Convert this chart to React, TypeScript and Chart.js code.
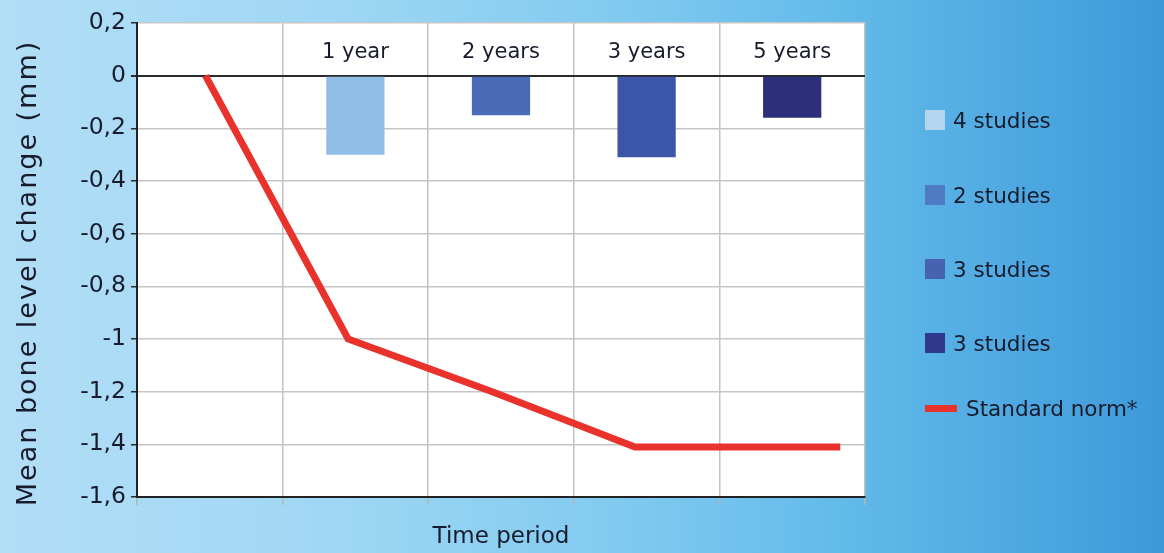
import React, { useEffect, useRef } from "react";
import { Chart, registerables } from "chart.js";

Chart.register(...registerables);

// ---- data ----
const categories = ["", "1 year", "2 years", "3 years", "5 years"];
const barValues = [null, -0.3, -0.15, -0.31, -0.16];
const barColors = ["rgba(0,0,0,0)", "#8fbde8", "#4a6cb8", "#3b55a8", "#2d2f7a"];
const normX = [-0.03, 0.95, 1.94, 2.92, 4.33];
const normY = [0, -1.0, -1.2, -1.41, -1.41];
const yTicks = [0.2, 0, -0.2, -0.4, -0.6, -0.8, -1.0, -1.2, -1.4, -1.6];
const legendLabels = ["4 studies", "2 studies", "3 studies", "3 studies"];
const legendColors = ["#b5d5ef", "#4f7bc4", "#4862b2", "#30388e"];
const normLabel = "Standard norm*";
const normColor = "#e8322b";
const yTitle = "Mean bone level change (mm)";
const xTitle = "Time period";

const FONT = "'DejaVu Sans', sans-serif";
const TEXT = "#171b2c";

const fmt = (v: number) => Number(v.toFixed(1)).toString().replace(".", ",");

const decorPlugin = {
  id: "decor",
  beforeDraw(chart: any) {
    const { ctx, chartArea } = chart;
    ctx.save();
    ctx.fillStyle = "#ffffff";
    ctx.fillRect(chartArea.left, chartArea.top, chartArea.right - chartArea.left, chartArea.bottom - chartArea.top);
    ctx.restore();
  },
  afterDraw(chart: any) {
    const { ctx, chartArea, scales } = chart;
    const xs = scales.x;
    const ys = scales.y;
    // category labels inside the plot, above zero line
    ctx.save();
    ctx.fillStyle = TEXT;
    ctx.font = `21px ${FONT}`;
    ctx.textAlign = "center";
    ctx.textBaseline = "middle";
    const zero = ys.getPixelForValue(0);
    const ly = (chartArea.top + zero) / 2 + 3;
    categories.forEach((c, i) => {
      if (c) ctx.fillText(c, xs.getPixelForValue(i), ly);
    });
    ctx.restore();

    // y title
    ctx.save();
    ctx.fillStyle = TEXT;
    ctx.font = `27px ${FONT}`;
    (ctx as any).letterSpacing = "2px";
    ctx.textAlign = "center";
    ctx.textBaseline = "middle";
    ctx.translate(29, 273);
    ctx.rotate(-Math.PI / 2);
    ctx.fillText(yTitle, 0, 0);
    ctx.restore();

    // x title
    ctx.save();
    ctx.fillStyle = TEXT;
    ctx.font = `23px ${FONT}`;
    ctx.textAlign = "center";
    ctx.textBaseline = "middle";
    ctx.fillText(xTitle, (chartArea.left + chartArea.right) / 2, 537);
    ctx.restore();
  },
};

export default function App() {
  const ref = useRef<HTMLCanvasElement | null>(null);

  useEffect(() => {
    if (!ref.current) return;
    Chart.defaults.font.family = FONT;
    const chart = new Chart(ref.current, {
      type: "bar",
      data: {
        labels: categories,
        datasets: [
          {
            type: "bar",
            data: barValues as any,
            backgroundColor: barColors,
            borderWidth: 0,
            barPercentage: 0.4,
            categoryPercentage: 1.0,
            grouped: false,
            order: 1,
            xAxisID: "x",
          } as any,
          {
            type: "line",
            data: normX.map((x, i) => ({ x, y: normY[i] })),
            borderColor: normColor,
            borderWidth: 7,
            pointRadius: 0,
            borderCapStyle: "butt",
            borderJoinStyle: "miter",
            tension: 0,
            fill: false,
            order: 0,
            xAxisID: "x2",
          } as any,
        ],
      },
      options: {
        animation: false,
        responsive: true,
        maintainAspectRatio: false,
        layout: { padding: { left: 0, right: 299, top: 23, bottom: 0 } },
        plugins: { legend: { display: false }, tooltip: { enabled: false } },
        scales: {
          x: {
            type: "category",
            offset: true,
            grid: {
              offset: true,
              color: "#c2c2c2",
              lineWidth: 1.5,
              tickLength: 8,
              tickColor: "#b5b5b5",
            },
            border: { display: true, color: "#222222", width: 2 },
            ticks: { display: false },
            afterFit: (s: any) => {
              s.height = 56;
            },
          },
          x2: {
            type: "linear",
            min: -0.5,
            max: 4.5,
            offset: false,
            display: false,
          },
          y: {
            type: "linear",
            min: -1.6,
            max: 0.2,
            afterBuildTicks: (s: any) => {
              s.ticks = yTicks.map((v) => ({ value: v }));
            },
            ticks: {
              color: TEXT,
              font: { size: 23.5, family: FONT },
              padding: 5,
              callback: (v: any) => fmt(Number(v)),
            },
            grid: {
              color: (c: any) => (c.tick && c.tick.value === 0 ? "#2a2a2a" : "#c6c6c6"),
              lineWidth: (c: any) => (c.tick && c.tick.value === 0 ? 2 : 1.5),
              tickLength: 6,
              tickColor: "#2a2a2a",
            },
            border: { display: true, color: "#222222", width: 2 },
            afterFit: (s: any) => {
              s.width = 137;
            },
          },
        },
      },
      plugins: [decorPlugin],
    });
    return () => chart.destroy();
  }, []);

  const itemYs = [120, 195, 269, 343];

  return (
    <div
      style={{
        position: "fixed",
        left: 0,
        top: 0,
        width: 1164,
        height: 553,
        overflow: "hidden",
        background:
          "linear-gradient(to right, #b2def6 0%, #a0d7f4 28%, #82cbf0 52%, #63bbea 72%, #3e99d9 100%)",
      }}
    >
      <div style={{ position: "absolute", left: 0, top: 0, width: 1164, height: 553 }}>
        <canvas ref={ref} />
      </div>
      {legendLabels.map((lab, i) => (
        <div
          key={i}
          style={{
            position: "absolute",
            left: 925,
            top: itemYs[i] - 14,
            height: 28,
            display: "flex",
            alignItems: "center",
            fontFamily: FONT,
            fontSize: 21.5,
            color: TEXT,
            whiteSpace: "nowrap",
          }}
        >
          <span
            style={{ display: "inline-block", width: 20, height: 20, background: legendColors[i], marginRight: 8 }}
          />
          <span>{lab}</span>
        </div>
      ))}
      <div
        style={{
          position: "absolute",
          left: 925,
          top: 408 - 14,
          height: 28,
          display: "flex",
          alignItems: "center",
          fontFamily: FONT,
          fontSize: 21.5,
          color: TEXT,
          whiteSpace: "nowrap",
        }}
      >
        <span style={{ display: "inline-block", width: 32, height: 7, background: normColor, marginRight: 9 }} />
        <span>{normLabel}</span>
      </div>
    </div>
  );
}
